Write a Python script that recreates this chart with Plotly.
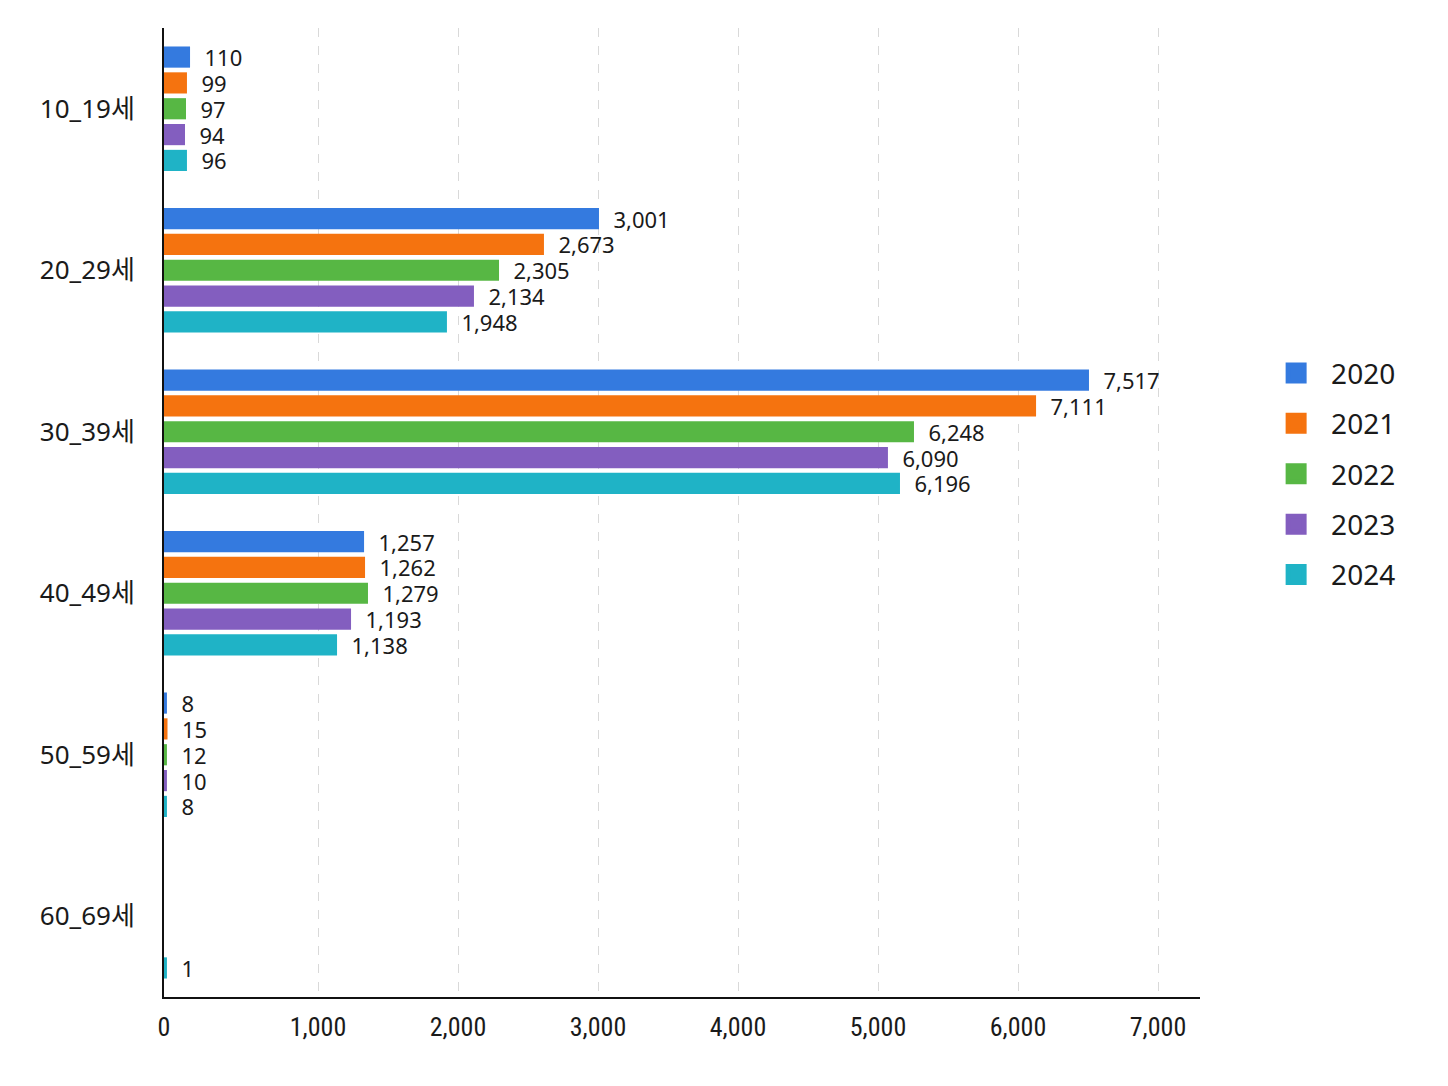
import plotly.graph_objects as go

age_groups = ["10_19세", "20_29세", "30_39세", "40_49세", "50_59세", "60_69세"]
years = ["2020", "2021", "2022", "2023", "2024"]
colors = ["#347ADF", "#F5730F", "#57B744", "#835EBF", "#1FB3C6"]

# printed value labels
counts_2020 = [110, 3001, 7517, 1257, 8, None]
counts_2021 = [99, 2673, 7111, 1262, 15, None]
counts_2022 = [97, 2305, 6248, 1279, 12, None]
counts_2023 = [94, 2134, 6090, 1193, 10, None]
counts_2024 = [96, 1948, 6196, 1138, 8, 1]

len_2020 = [186, 3107, 6607, 1429, 21, None]
len_2021 = [164, 2714, 6229, 1436, 25, None]
len_2022 = [157, 2393, 5357, 1457, 21, None]
len_2023 = [150, 2214, 5171, 1336, 21, None]
len_2024 = [164, 2021, 5257, 1236, 21, 21]

x_tick_vals = [0, 1100, 2100, 3100, 4100, 5100, 6100, 7100]
x_tick_text = ["0", "1,000", "2,000", "3,000", "4,000", "5,000", "6,000", "7,000"]

counts = [counts_2020, counts_2021, counts_2022, counts_2023, counts_2024]
lengths = [len_2020, len_2021, len_2022, len_2023, len_2024]

FONT = "Noto Sans, Noto Sans CJK KR, sans-serif"
NARROW = "Roboto Condensed, Liberation Sans Narrow, Arial Narrow, Noto Sans, sans-serif"

fig = go.Figure()

for yr, col, cnt, ln in zip(years, colors, counts, lengths):
    labels = ["\u00a0\u00a0" + f"{v:,}" if v is not None else "" for v in cnt]
    fig.add_trace(go.Bar(
        y=age_groups, x=ln, name=yr, orientation="h",
        marker=dict(color=col, line=dict(width=0)),
        text=labels, textposition="outside", constraintext="none",
        textfont=dict(family=FONT, size=22, color="#1a1a1a"),
        cliponaxis=False, legendgroup=yr, showlegend=False,
    ))
    # legend entry with a bigger square swatch
    fig.add_trace(go.Scatter(
        x=[None], y=[None], mode="markers", name=yr, legendgroup=yr,
        marker=dict(symbol="square", size=16, color=col, line=dict(color=col, width=11)),
        showlegend=True,
    ))

# page body has an 8px margin, so the figure is sized to fit inside it
fig.update_layout(
    width=1432, height=1070,
    margin=dict(l=156, r=240, t=20, b=81),
    paper_bgcolor="white", plot_bgcolor="white",
    barmode="group", bargap=0.2, bargroupgap=0.18,
    font=dict(family=FONT, color="#1a1a1a"),
    legend=dict(
        x=1.059, y=0.54, xanchor="left", yanchor="middle",
        font=dict(family=FONT, size=28, color="#1a1a1a"),
        traceorder="grouped", tracegroupgap=11, itemsizing="trace", itemwidth=60,
        bgcolor="rgba(0,0,0,0)",
    ),
)

fig.update_xaxes(
    range=[0, 7400], tickvals=x_tick_vals, ticktext=x_tick_text,
    showgrid=True, gridcolor="#d9d9d9", griddash="dash", gridwidth=1,
    showline=True, linecolor="#111111", linewidth=2,
    zeroline=False, ticks="", ticklabelstandoff=6,
    tickfont=dict(family=NARROW, size=26, color="#1a1a1a"),
)
fig.update_yaxes(
    autorange="reversed", showgrid=False,
    showline=True, linecolor="#111111", linewidth=2,
    ticks="", ticklabelstandoff=22,
    tickfont=dict(family=FONT, size=26, color="#1a1a1a"),
)

fig.write_html("out.html")
